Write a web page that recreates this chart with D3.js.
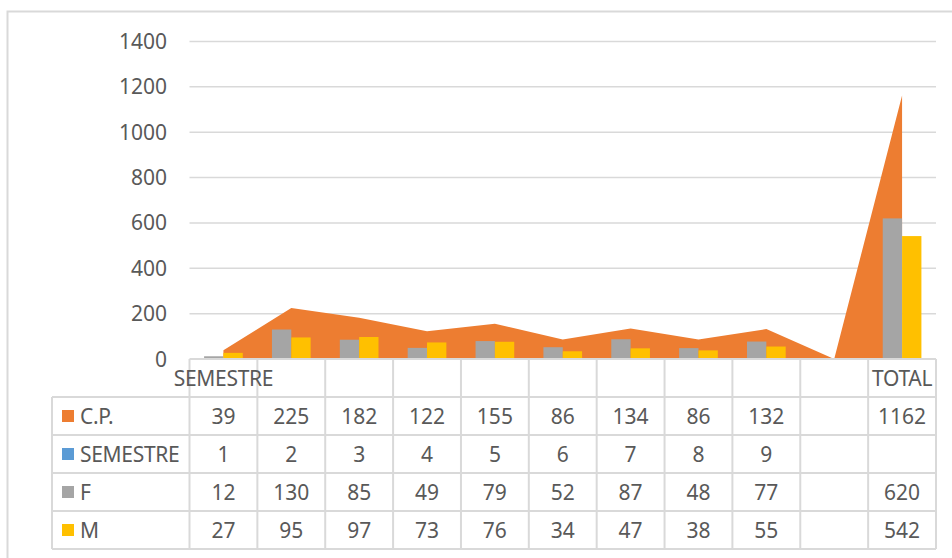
<!DOCTYPE html>
<html lang="es">
<head>
    <meta charset="UTF-8">
    <title>C.P. por semestre</title>
    <script src="https://d3js.org/d3.v7.min.js"></script>
    <style>
        body { margin: 0; background: #fff; }
        text { font-family: "Noto Sans", sans-serif; fill: #595959; }
    </style>
</head>
<body>
    <svg width="952" height="558"></svg>

    <script>
        // datos
        const categories = ["SEMESTRE", "", "", "", "", "", "", "", "", "", "TOTAL"];
        const cp = [39, 225, 182, 122, 155, 86, 134, 86, 132, null, 1162];
        const semestre = [1, 2, 3, 4, 5, 6, 7, 8, 9, null, null];
        const f = [12, 130, 85, 49, 79, 52, 87, 48, 77, null, 620];
        const m = [27, 95, 97, 73, 76, 34, 47, 38, 55, null, 542];
        const yTicks = [0, 200, 400, 600, 800, 1000, 1200, 1400];

        const tableRows = [
            { name: "C.P.", color: "#ED7D31", values: cp },
            { name: "SEMESTRE", color: "#5B9BD5", values: semestre },
            { name: "F", color: "#A5A5A5", values: f },
            { name: "M", color: "#FFC000", values: m }
        ];

        const svg = d3.select("svg");
        const gridColor = "#d9d9d9";
        const fontSize = 21;

        // marco del gráfico
        svg.append("rect")
            .attr("x", 7.5).attr("y", 11.5)
            .attr("width", 980).attr("height", 580)
            .attr("fill", "#fff")
            .attr("stroke", gridColor)
            .attr("stroke-width", 2);

        const x = d3.scaleBand()
            .domain(d3.range(categories.length))
            .range([189.5, 936])
            .padding(0);

        const y = d3.scaleLinear()
            .domain([0, 1400])
            .range([359, 41.5]);

        const xBar = d3.scaleBand()
            .domain(["F", "M"])
            .range([0, x.bandwidth() * 0.57]);

        // líneas de la cuadrícula
        svg.selectAll(".grid")
            .data(yTicks.slice(1))
            .enter().append("line")
            .attr("class", "grid")
            .attr("x1", x.range()[0])
            .attr("x2", x.range()[1])
            .attr("y1", d => y(d))
            .attr("y2", d => y(d))
            .attr("stroke", gridColor)
            .attr("stroke-width", 1.5);

        svg.selectAll(".ytick")
            .data(yTicks)
            .enter().append("text")
            .attr("class", "ytick")
            .attr("x", 167)
            .attr("y", d => y(d))
            .attr("dy", "0.36em")
            .attr("text-anchor", "end")
            .attr("font-size", fontSize)
            .text(d => d);

        // área C.P.
        const area = d3.area()
            .x((d, i) => x(i) + x.bandwidth() / 2)
            .y0(y(0))
            .y1(d => y(d == null ? 0 : d));

        svg.append("path")
            .datum(cp)
            .attr("d", area)
            .attr("fill", "#ED7D31");

        // barras F y M
        const barSeries = [{ key: "F", values: f, color: "#A5A5A5" }, { key: "M", values: m, color: "#FFC000" }];
        const barOffset = x.bandwidth() / 2 - xBar.range()[1] / 2;

        barSeries.forEach(s => {
            svg.selectAll(".bar-" + s.key)
                .data(s.values.map((v, i) => ({ i: i, v: v })).filter(d => d.v != null))
                .enter().append("rect")
                .attr("class", "bar-" + s.key)
                .attr("x", d => x(d.i) + barOffset + xBar(s.key))
                .attr("y", d => y(d.v))
                .attr("width", xBar.bandwidth())
                .attr("height", d => y(0) - y(d.v))
                .attr("fill", s.color);
        });

        // tabla de datos
        const rowY = d3.scaleBand()
            .domain(["header"].concat(tableRows.map(r => r.name)))
            .range([359, 549]);

        const tableLeft = 52;
        const table = svg.append("g");

        // horizontales
        table.append("line")
            .attr("x1", x.range()[0]).attr("x2", x.range()[1])
            .attr("y1", rowY("header")).attr("y2", rowY("header"))
            .attr("stroke", gridColor).attr("stroke-width", 2);

        table.selectAll(".hline")
            .data(tableRows.map(r => rowY(r.name)).concat([rowY.range()[1]]))
            .enter().append("line")
            .attr("class", "hline")
            .attr("x1", tableLeft).attr("x2", x.range()[1])
            .attr("y1", d => d).attr("y2", d => d)
            .attr("stroke", gridColor).attr("stroke-width", 2);

        // verticales
        table.selectAll(".vline")
            .data(d3.range(categories.length + 1))
            .enter().append("line")
            .attr("class", "vline")
            .attr("x1", i => x.range()[0] + i * x.bandwidth())
            .attr("x2", i => x.range()[0] + i * x.bandwidth())
            .attr("y1", rowY("header")).attr("y2", rowY.range()[1])
            .attr("stroke", gridColor).attr("stroke-width", 2);

        table.append("line")
            .attr("x1", tableLeft).attr("x2", tableLeft)
            .attr("y1", rowY("C.P.")).attr("y2", rowY.range()[1])
            .attr("stroke", gridColor).attr("stroke-width", 2);

        // encabezados de categoría
        table.selectAll(".cat")
            .data(categories)
            .enter().append("text")
            .attr("class", "cat")
            .attr("x", (d, i) => x(i) + x.bandwidth() / 2)
            .attr("y", rowY("header") + rowY.bandwidth() / 2)
            .attr("dy", "0.36em")
            .attr("text-anchor", "middle")
            .attr("font-size", fontSize)
            .attr("letter-spacing", -0.3)
            .text(d => d);

        const rows = table.selectAll(".row")
            .data(tableRows)
            .enter().append("g")
            .attr("class", "row")
            .attr("transform", d => `translate(0,${rowY(d.name) + rowY.bandwidth() / 2})`);

        rows.append("rect")
            .attr("x", 62).attr("y", -6)
            .attr("width", 12).attr("height", 12)
            .attr("fill", d => d.color);

        rows.append("text")
            .attr("x", 80)
            .attr("dy", "0.36em")
            .attr("font-size", fontSize)
            .attr("letter-spacing", -0.3)
            .text(d => d.name);

        rows.selectAll(".val")
            .data(d => d.values)
            .enter().append("text")
            .attr("class", "val")
            .attr("x", (d, i) => x(i) + x.bandwidth() / 2)
            .attr("dy", "0.36em")
            .attr("text-anchor", "middle")
            .attr("font-size", fontSize)
            .text(d => d == null ? "" : d);
    </script>
</body>
</html>
